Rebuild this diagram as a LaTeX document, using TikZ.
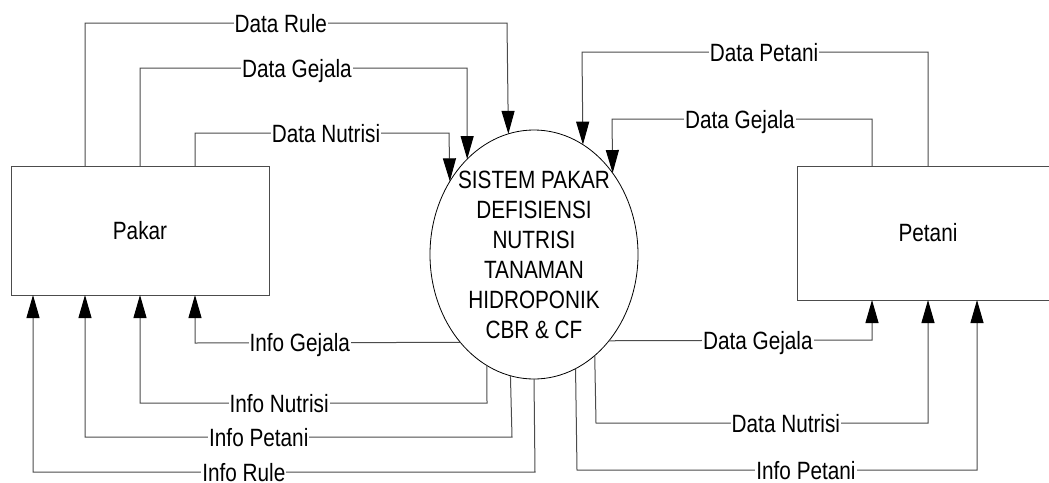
\documentclass[tikz,border=0pt]{standalone}
\usepackage{fontspec}
\setmainfont[FakeStretch=0.83]{Liberation Sans}
\usetikzlibrary{arrows.meta,shapes.geometric}
\begin{document}
\begin{tikzpicture}[x=1pt,y=-1pt,
  font=\fontsize{25}{30}\selectfont,
  box/.style={draw=black!70, line width=1pt, inner sep=0pt, outer sep=0pt},
  proc/.style={draw=black, line width=0.8pt, ellipse, minimum width=208pt, minimum height=249pt, inner sep=0pt, outer sep=0pt},
  flow/.style={draw=black!70, line width=1pt, -{Triangle[length=23pt,width=13pt,color=black]}},
  lbl/.style={fill=white, inner xsep=1pt, inner ysep=0pt, text height=18pt, text depth=0pt}]
\clip (0,0) rectangle (1049,482);
\fill[white] (0,0) rectangle (1049,482);
% nodes
\node[box, minimum width=258pt, minimum height=129pt] (pakar) at (140,230.5) {Pakar};
\node[box, minimum width=262pt, minimum height=134pt] (petani) at (928,233) {Petani};
\node[proc, label={[align=center, inner sep=0pt]center:SISTEM PAKAR\\DEFISIENSI\\NUTRISI\\TANAMAN\\HIDROPONIK\\CBR \& CF}] (sys) at (534,254.5) {};
% Pakar -> sistem
\draw[flow] ([xshift=-55pt]pakar.north) -- (85,23) -- node[lbl,pos=.464]{Data Rule} (507,23) -- (sys.102.66);
\draw[flow] (pakar.north) -- (140,68) -- node[lbl,pos=.48]{Data Gejala} (467,68) -- (sys.125.14);
\draw[flow] ([xshift=55pt]pakar.north) -- (195,133) -- node[lbl,pos=.516]{Data Nutrisi} (449,133) -- (sys.139.85);
% sistem -> Pakar
\draw[flow] (sys.230.4) -- node[lbl,pos=.605]{Info Gejala} (195,343) -- ([xshift=55pt]pakar.south);
\draw[flow] (sys.247.07) -- (487,403) -- node[lbl,pos=.599]{Info Nutrisi} (140,403) -- (pakar.south);
\draw[flow] (sys.259.75) -- (512,437) -- node[lbl,pos=.593]{Info Petani} (85,437) -- ([xshift=-55pt]pakar.south);
\draw[flow] (sys.270.46) -- (535,472) -- node[lbl,pos=.58]{Info Rule} (33,472) -- ([xshift=-107pt]pakar.south);
% Petani -> sistem
\draw[flow] (petani.north) -- (928,52) -- node[lbl,pos=.474]{Data Petani} (582,52) -- (sys.66.5);
\draw[flow] ([xshift=-56pt]petani.north) -- (872,119) -- node[lbl,pos=.508]{Data Gejala} (612,119) -- (sys.46.53);
% sistem -> Petani
\draw[flow] (sys.311.48) -- node[lbl,pos=.566]{Data Gejala} (872,340) -- ([xshift=-56pt]petani.south);
\draw[flow] (sys.301.81) -- (596,423) -- node[lbl,pos=.572]{Data Nutrisi} (928,423) -- (petani.south);
\draw[flow] (sys.290.77) -- (577,470) -- node[lbl,pos=.5725]{Info Petani} (977,470) -- ([xshift=49pt]petani.south);
\end{tikzpicture}
\end{document}
